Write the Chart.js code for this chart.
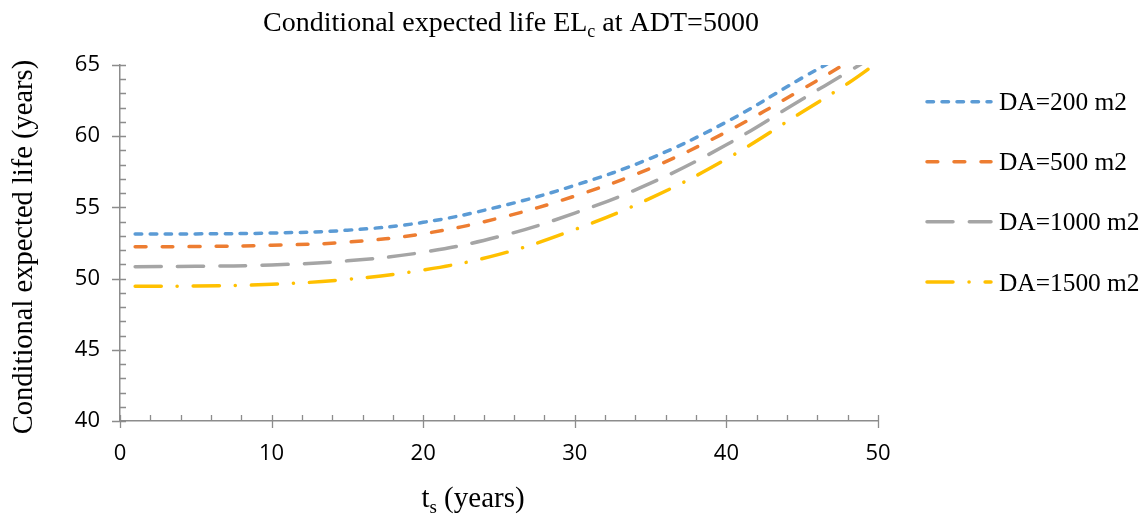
<!DOCTYPE html>
<html lang="en">
<head>
    <meta charset="UTF-8">
    <title>Conditional expected life</title>
    <style>
        html, body { margin: 0; padding: 0; background: #ffffff; }
        #wrap { width: 1147px; height: 524px; position: relative; }
    </style>
</head>
<body>
    <div id="wrap">
        <canvas id="elChart" width="1147" height="524"></canvas>
    </div>

    <script src="https://cdn.jsdelivr.net/npm/chart.js"></script>
    <script>
        // Data
        const tsYears = [1, 5, 10, 15, 20, 25, 30, 35, 40, 45, 48, 50];
        const da200 = [53.13, 53.14, 53.2, 53.4, 53.95, 55.05, 56.55, 58.45, 61.0, 64.1, 65.9, 67.3];
        const da500 = [52.24, 52.25, 52.34, 52.56, 53.15, 54.25, 55.8, 57.75, 60.3, 63.3, 65.2, 66.6];
        const da1000 = [50.84, 50.86, 50.96, 51.25, 51.85, 52.95, 54.6, 56.7, 59.4, 62.6, 64.5, 65.8];
        const da1500 = [49.46, 49.48, 49.6, 49.95, 50.6, 51.7, 53.45, 55.65, 58.4, 61.7, 63.7, 65.2];
        const seriesNames = ['DA=200 m2', 'DA=500 m2', 'DA=1000 m2', 'DA=1500 m2'];
        const xTicks = [0, 10, 20, 30, 40, 50];
        const yTicks = [40, 45, 50, 55, 60, 65];

        const serif = '"Liberation Serif", "Times New Roman", serif';
        const axisGrey = '#8c8c8c';

        function pts(vals) {
            return vals.map((v, i) => ({ x: tsYears[i], y: v }));
        }

        const styles = [
            { color: '#5b9bd5', dash: [6.5, 8.5] },
            { color: '#ed7d31', dash: [10.8, 16.2] },
            { color: '#a5a5a5', dash: [26, 16.3] },
            { color: '#ffc000', dash: [26, 16, 0.1, 16] }
        ];
        const allSeries = [da200, da500, da1000, da1500];

        const datasets = allSeries.map((vals, i) => ({
            label: seriesNames[i],
            data: pts(vals),
            borderColor: styles[i].color,
            backgroundColor: styles[i].color,
            borderWidth: 3.5,
            borderDash: styles[i].dash,
            borderCapStyle: 'round',
            pointRadius: 0,
            tension: 0.4,
            clip: 0,
            fill: false
        }));

        // draws "main" + subscript + "rest" centred at cx
        function subText(ctx, main, sub, rest, cx, y, size) {
            ctx.save();
            ctx.fillStyle = '#000';
            ctx.textBaseline = 'alphabetic';
            ctx.textAlign = 'left';
            const big = size + 'px ' + serif;
            const small = Math.round(size * 0.65) + 'px ' + serif;
            ctx.font = big;
            const w1 = ctx.measureText(main).width;
            const w3 = ctx.measureText(rest).width;
            ctx.font = small;
            const w2 = ctx.measureText(sub).width;
            let x = cx - (w1 + w2 + w3) / 2;
            ctx.font = big;
            ctx.fillText(main, x, y);
            x += w1;
            ctx.font = small;
            ctx.fillText(sub, x, y + size * 0.22);
            x += w2;
            ctx.font = big;
            ctx.fillText(rest, x, y);
            ctx.restore();
        }

        const decorPlugin = {
            id: 'decor',
            afterDraw(chart) {
                const ctx = chart.ctx;
                const xs = chart.scales.x;
                const ys = chart.scales.y;
                const area = chart.chartArea;

                // tick marks: major crossing the axis, minor inside
                ctx.save();
                ctx.strokeStyle = axisGrey;
                ctx.lineWidth = 1.3;
                ctx.beginPath();
                for (let v = 0; v <= 50; v += 2) {
                    const px = Math.round(xs.getPixelForValue(v)) + 0.5;
                    const major = v % 10 === 0;
                    ctx.moveTo(px, area.bottom - 6);
                    ctx.lineTo(px, area.bottom + (major ? 7 : 0));
                }
                for (let v = 40; v <= 65; v += 1) {
                    const py = Math.round(ys.getPixelForValue(v)) + 0.5;
                    const major = v % 5 === 0;
                    ctx.moveTo(area.left - (major ? 8 : 0), py);
                    ctx.lineTo(area.left + 6, py);
                }
                ctx.stroke();
                ctx.restore();

                // titles
                subText(ctx, 'Conditional expected life EL', 'c', ' at ADT=5000', 511, 31, 28);
                subText(ctx, 't', 's', ' (years)', 473, 507, 29);

                ctx.save();
                ctx.translate(32, 247);
                ctx.rotate(-Math.PI / 2);
                ctx.font = '28.5px ' + serif;
                ctx.fillStyle = '#000';
                ctx.textAlign = 'center';
                ctx.textBaseline = 'alphabetic';
                ctx.fillText('Conditional expected life (years)', 0, 0);
                ctx.restore();

                // legend
                const legendY = [101.7, 161.7, 221.7, 282];
                ctx.save();
                chart.data.datasets.forEach((ds, i) => {
                    const y = legendY[i];
                    ctx.strokeStyle = ds.borderColor;
                    ctx.lineWidth = 3.5;
                    ctx.lineCap = 'round';
                    ctx.setLineDash(ds.borderDash);
                    ctx.beginPath();
                    ctx.moveTo(927, y);
                    ctx.lineTo(991, y);
                    ctx.stroke();
                    ctx.setLineDash([]);
                    ctx.font = '25.4px ' + serif;
                    ctx.fillStyle = '#000';
                    ctx.textAlign = 'left';
                    ctx.textBaseline = 'alphabetic';
                    ctx.fillText(ds.label, 999, y + 8.5);
                });
                ctx.restore();
            }
        };

        const ctx = document.getElementById('elChart').getContext('2d');
        const elChart = new Chart(ctx, {
            type: 'line',
            data: { datasets: datasets },
            options: {
                responsive: false,
                maintainAspectRatio: false,
                animation: false,
                devicePixelRatio: 1,
                layout: { padding: { left: 0, right: 269, top: 65, bottom: 0 } },
                plugins: {
                    legend: { display: false },
                    title: { display: false },
                    tooltip: { enabled: false }
                },
                scales: {
                    x: {
                        type: 'linear',
                        min: 0,
                        max: 50,
                        afterBuildTicks(scale) {
                            scale.ticks = xTicks.map(v => ({ value: v }));
                        },
                        afterFit(scale) { scale.height = 103; },
                        grid: { display: true, drawOnChartArea: false, drawTicks: false },
                        border: { display: true, color: axisGrey, width: 1.5 },
                        ticks: {
                            padding: 20,
                            color: '#000',
                            font: { family: '"Open Sans", sans-serif', size: 22 }
                        }
                    },
                    y: {
                        type: 'linear',
                        min: 40,
                        max: 65,
                        afterBuildTicks(scale) {
                            scale.ticks = yTicks.map(v => ({ value: v }));
                        },
                        afterFit(scale) { scale.width = 120; },
                        grid: { display: true, drawOnChartArea: false, drawTicks: false },
                        border: { display: true, color: axisGrey, width: 1.5 },
                        ticks: {
                            padding: 20,
                            color: '#000',
                            font: { family: '"Open Sans", sans-serif', size: 22 }
                        }
                    }
                }
            },
            plugins: [decorPlugin]
        });
    </script>
</body>
</html>
